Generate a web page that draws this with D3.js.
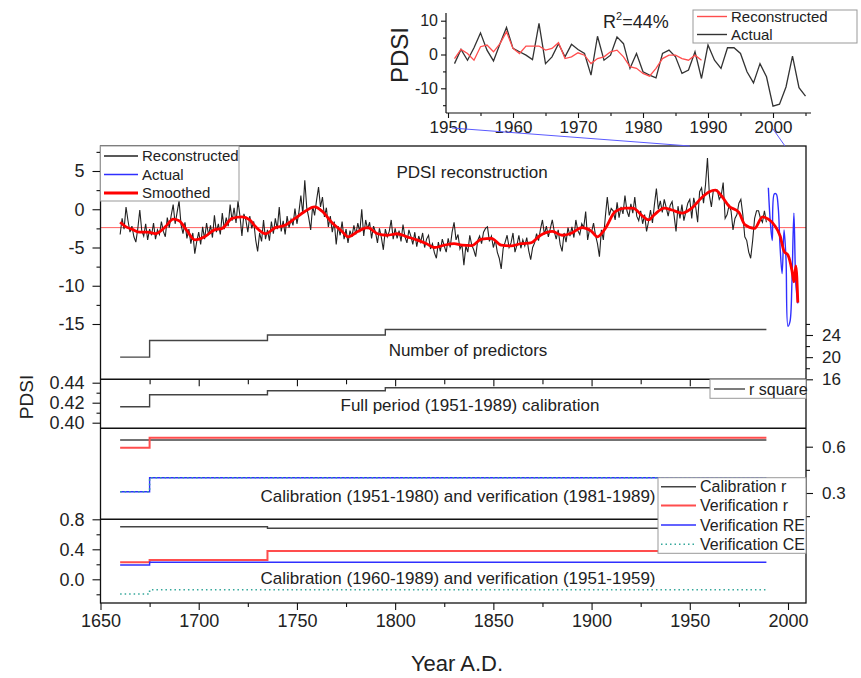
<!DOCTYPE html>
<html>
<head>
<meta charset="utf-8">
<title>PDSI reconstruction</title>
<style>
  body { margin: 0; background: #fff; }
  svg text { font-family: "Liberation Sans", Arial, sans-serif; fill: #222; }
</style>
</head>
<body>
<div id="chart"></div>
<script src="https://cdn.jsdelivr.net/npm/d3@7"></script>
<script>
// ---- data ----
// reconstructed PDSI, one value per year from 1660 to 1989
var reconStart = 1660;
var recon = [
  -3.3, -1.2, -2.6, 0.3, -1.5, -3.0, -2.2, -3.6, -4.3, -2.5,
  -0.1, -2.8, -3.5, -1.9, -4.0, -2.6, -3.4, -1.8, -3.9, -2.7,
  -3.3, -1.6, -2.9, -3.6, -1.1, -2.4, -0.8, 0.6, -1.9, -0.4,
  1.1, -2.0, -3.2, -1.7, -3.8, -2.6, -4.5, -3.1, -5.8, -4.2,
  -3.0, -4.6, -2.3, -3.9, -1.8, -3.4, -2.1, -3.7, -0.8, -3.0,
  -1.9, -3.3, -0.5, -2.6, -1.1, -2.2, 0.6, -1.5, 0.2, -1.8,
  1.1, -0.9, -3.5, -0.6, -1.4, -3.0, -0.9, -2.5, -1.6, -4.0,
  -5.5, -3.1, -4.2, -1.4, -3.9, -2.7, -4.1, -1.6, -3.2, -1.2,
  -2.6, 0.3, -2.9, -1.5, -3.3, -0.9, -2.4, -1.3, -2.1, 0.1,
  -1.9, -0.4, 1.8, -0.6, 3.8, 0.2, -1.1, -2.7, 0.4, -0.8,
  1.2, 2.9, 0.3, 1.6, -1.0, 0.2, -2.3, -0.9, -3.0, -1.6,
  -4.6, -2.2, -3.4, -1.6, -3.9, -2.6, -4.4, -2.8, -3.6, -2.1,
  -3.3, -1.8, -3.0, 0.0, -3.5, -1.4, -2.6, -1.7, -3.8, -2.2,
  -3.0, -4.4, -2.5, -3.7, -5.3, -2.6, -3.6, -2.9, -1.4, -3.9,
  -2.5, -3.8, -2.8, -4.2, -2.0, -3.6, -4.4, -2.7, -3.5, -4.6,
  -3.0, -4.9, -3.5, -4.3, -3.1, -5.0, -3.9, -3.4, -5.2, -4.5,
  -5.7, -6.4, -4.3, -5.5, -3.9, -4.8, -5.6, -3.8, -5.0, -3.0,
  -1.7, -4.0, -3.3, -5.2, -4.6, -7.3, -4.8, -5.6, -3.4, -4.7,
  -5.3, -6.2, -4.1, -3.5, -4.5, -3.0, -2.5, -2.3, -4.2, -3.5,
  -5.0, -4.0, -5.6, -6.4, -7.8, -5.1, -4.3, -3.4, -5.0, -4.4,
  -3.1, -5.6, -4.7, -3.4, -5.1, -4.0, -4.8, -3.7, -5.4, -6.6,
  -5.0, -4.4, -3.2, -4.1, -2.6, -1.4, -3.3, -2.2, -3.6, -2.5,
  -1.4, -2.9, -3.9, -2.7, -4.6, -5.5, -3.1, -4.3, -2.4, -3.5,
  -2.3, -3.7, -1.4, -2.8, -3.3, -1.9, -2.4, -0.3, -4.0, -2.6,
  -3.0, -1.8, -3.4, -4.5, -6.2, -2.7, -4.0, -1.0, 1.6, -0.8,
  0.1, -0.2, -1.4, 0.9, -1.1, 0.3, -0.6, 1.8, -0.2, -1.0,
  0.7, -0.5, 1.6, -0.9, -1.5, -0.2, -1.9, -0.7, -2.9, -1.6,
  -0.1, -1.8, 0.6, 2.7, 0.0, 1.1, -0.4, 1.3, 0.2, -0.9,
  0.5, 1.0, -0.8, -2.9, 0.4, -1.2, 0.6, -1.5, -0.3, 0.8,
  1.3, -1.2, 1.5, 0.3, -1.7, 2.3, 2.8, 0.8, 3.2, 6.7,
  1.8, 0.3, 2.5, 2.5, 2.5, 1.3, 1.8, 3.5, -1.2, -0.7,
  0.5, -0.2, -2.7, -1.2, -0.7, 0.8, 1.3, -0.7, -3.6, -4.1,
  -5.6, -6.4, -4.1, -1.2, -0.2, -0.2, -1.2, -1.7, -0.2, -1.7
];

// actual (instrumental) PDSI, 1951-2005
var actualStart = 1951;
var actual = [
  -2.7, 1.5, -1.7, 2.0, 6.4, 1.3, -1.9, 3.2, 8.0, 1.8,
  0.8, -0.2, -1.5, 9.2, -2.7, -0.7, 3.2, -0.7, 3.0, 1.5,
  0.3, -6.1, 5.4, -1.7, -0.2, 5.2, 3.2, -4.1, 0.3, -5.1,
  -6.1, -6.9, 0.3, 1.3, -0.7, -5.6, -4.6, 0.8, -7.1, 2.8,
  -1.7, -4.1, 2.0, 2.0, 0.3, -5.1, -8.4, -2.7, -6.6, -15.3,
  -14.7, -9.6, -0.5, -9.8, -12.3
];

// smoothed curve, read at its turning points
var smoothYears = [1660, 1663, 1666, 1670, 1674, 1678, 1683, 1687, 1690, 1694, 1698, 1703, 1708,
  1712, 1717, 1722, 1726, 1729, 1734, 1739, 1744, 1749, 1754, 1759, 1763, 1768, 1773, 1776,
  1781, 1786, 1791, 1796, 1801, 1806, 1811, 1816, 1820, 1825, 1830, 1834, 1839, 1844, 1849,
  1854, 1859, 1864, 1869, 1874, 1880, 1885, 1890, 1895, 1900, 1903, 1907, 1912, 1917, 1921,
  1926, 1929, 1932, 1937, 1941, 1946, 1951, 1956, 1960, 1963, 1966, 1970, 1975, 1978, 1983,
  1987, 1990, 1993, 1996, 1998, 2000, 2002, 2003, 2004, 2005];
var smoothValues = [-1.7, -2.3, -2.6, -3.0, -3.0, -3.2, -2.3, -1.3, -1.5, -2.8, -4.0, -3.6, -2.7,
  -2.5, -1.2, -1.0, -1.4, -2.3, -3.2, -2.4, -2.1, -1.2, -0.3, 0.3, -0.3, -1.8, -2.9, -3.6,
  -2.9, -2.4, -3.2, -3.4, -3.2, -3.6, -4.0, -4.5, -5.0, -4.7, -4.5, -4.7, -4.75, -3.9, -3.8,
  -4.7, -4.8, -4.5, -4.4, -3.4, -2.9, -3.4, -3.1, -2.4, -2.9, -3.6, -2.5, -0.3, 0.15, 0.15,
  -0.9, -1.4, -0.7, 0.15, -0.1, -0.5, 0.15, 1.5, 2.3, 2.5, 1.8, 0.4, -0.4, -2.0, -2.5,
  -1.0, -1.3, -2.05, -3.5, -5.5, -6.0, -8.0, -9.5, -7.4, -12.2];

var meanPdsi = -2.4;

// step series (value holds from each year to the next)
var stepYears   = [1660, 1675, 1735, 1795, 1989];
var predictors  = [20, 23, 24, 25, 25];
var rSquare     = [0.416, 0.428, 0.432, 0.435, 0.435];
var calR8089    = [0.643, 0.643, 0.643, 0.643, 0.643];
var verR8089    = [0.594, 0.658, 0.658, 0.658, 0.658];
var verRE8089   = [0.308, 0.399, 0.399, 0.399, 0.399];
var verCE8089   = [0.308, 0.399, 0.399, 0.399, 0.399];
var calR5159    = [0.70, 0.70, 0.68, 0.68, 0.68];
var verR5159    = [0.227, 0.257, 0.377, 0.377, 0.377];
var verRE5159   = [0.19, 0.227, 0.227, 0.227, 0.227];
var verCE5159   = [-0.196, -0.14, -0.14, -0.14, -0.14];

// ticks
var xMajor = [1650, 1700, 1750, 1800, 1850, 1900, 1950, 2000];
var xMinor = [1675, 1725, 1775, 1825, 1875, 1925, 1975];
var mainYMajor = [5, 0, -5, -10, -15];
var mainYMinor = [7.5, 2.5, -2.5, -7.5, -12.5];
var predMajor = [16, 20, 24];
var predMinor = [18, 22, 26];
var rsqMajor = [0.40, 0.42, 0.44];
var rsqMinor = [0.41, 0.43];
var p3Major = [0.3, 0.6];
var p3Minor = [0.15, 0.45];
var p4Major = [0.0, 0.4, 0.8];
var p4Minor = [-0.2, 0.2, 0.6];
var inXMajor = [1950, 1960, 1970, 1980, 1990, 2000];
var inXMinor = [1955, 1965, 1975, 1985, 1995, 2005];
var inYMajor = [-10, 0, 10];
var inYMinor = [-15, -5, 5];

var mainLegend = ["Reconstructed", "Actual", "Smoothed"];
var insetLegend = ["Reconstructed", "Actual"];
var skillLegend = ["Calibration r", "Verification r", "Verification RE", "Verification CE"];

// ---- drawing ----
var svg = d3.select("#chart").append("svg")
    .attr("width", 861)
    .attr("height", 678);

var L = 100.5, R = 806, T = 146, B = 603;
var sep1 = 379.3, sep2 = 428.3, sep3 = 519.3;

var x = d3.scaleLinear().domain([1650, 2000]).range([L, 788]);
var yMain = d3.scaleLinear().domain([-15, 5]).range([324, 171]);
var yPred = d3.scaleLinear().domain([16, 24]).range([379.3, 335]);
var yR2 = d3.scaleLinear().domain([0.40, 0.44]).range([422.7, 382.7]);
var yP3 = d3.scaleLinear().domain([0.3, 0.6]).range([493, 446.7]);
var yP4 = d3.scaleLinear().domain([0, 0.8]).range([579.3, 519.3]);
var xIn = d3.scaleLinear().domain([1950, 2000]).range([448, 773]);
var yIn = d3.scaleLinear().domain([-10, 10]).range([88.3, 20.7]);

var BLK = "#222", RED = "#ff0000", BLUE = "#2f2fff", GRAY = "#444",
    LRED = "#ff4d4d", TEAL = "#35a89b";

function styleAxis(g, size) {
  g.attr("font-family", null).attr("font-size", null);
  g.select(".domain").remove();
  g.selectAll(".tick line").attr("stroke", "#111").attr("stroke-width", 1.1);
  g.selectAll(".tick text").attr("font-size", size).attr("fill", "#222");
}
var fmtInt = function(d) { return String(d); };

// --- main PDSI panel ---
svg.append("line")
    .attr("x1", L).attr("x2", R)
    .attr("y1", yMain(meanPdsi)).attr("y2", yMain(meanPdsi))
    .attr("stroke", "#ff6060").attr("stroke-width", 1);

var reconLine = d3.line()
    .x(function(d, i) { return x(reconStart + i); })
    .y(function(d) { return yMain(d); });
svg.append("path").datum(recon)
    .attr("d", reconLine)
    .attr("fill", "none").attr("stroke", BLK).attr("stroke-width", 1.1);

var actualPts = actual.map(function(v, i) { return [actualStart + i, v]; });
var mainActual = actualPts.filter(function(d) { return d[0] >= 1990; });
svg.append("path").datum(mainActual)
    .attr("d", d3.line().curve(d3.curveCatmullRom)
      .x(function(d) { return x(d[0]); })
      .y(function(d) { return yMain(d[1]); }))
    .attr("fill", "none").attr("stroke", BLUE).attr("stroke-width", 1.4);

var smoothPts = smoothYears.map(function(yr, i) { return [yr, smoothValues[i]]; });
svg.append("path").datum(smoothPts)
    .attr("d", d3.line().curve(d3.curveMonotoneX)
      .x(function(d) { return x(d[0]); })
      .y(function(d) { return yMain(d[1]); }))
    .attr("fill", "none").attr("stroke", RED).attr("stroke-width", 2.8)
    .attr("stroke-linejoin", "round");

// --- step panels ---
function stepPath(vals, yScale, color, width, dash) {
  var pts = stepYears.map(function(yr, i) { return [yr, vals[i]]; });
  svg.append("path").datum(pts)
    .attr("d", d3.line().curve(d3.curveStepAfter)
      .x(function(d) { return x(d[0]); })
      .y(function(d) { return yScale(d[1]); }))
    .attr("fill", "none").attr("stroke", color).attr("stroke-width", width)
    .attr("stroke-dasharray", dash || null);
}
stepPath(predictors, yPred, GRAY, 1.4);
stepPath(rSquare, yR2, GRAY, 1.4);
stepPath(calR8089, yP3, GRAY, 1.4);
stepPath(verR8089, yP3, LRED, 2);
stepPath(verRE8089, yP3, BLUE, 1.4);
stepPath(verCE8089, yP3, TEAL, 1.6, "1.5,3");
stepPath(calR5159, yP4, GRAY, 1.4);
stepPath(verR5159, yP4, LRED, 2);
stepPath(verRE5159, yP4, BLUE, 1.4);
stepPath(verCE5159, yP4, TEAL, 1.6, "1.5,3");

// panel titles
var titles = [
  ["PDSI reconstruction", 472, 178],
  ["Number of predictors", 468, 356],
  ["Full period (1951-1989) calibration", 470, 411],
  ["Calibration (1951-1980) and verification (1981-1989)", 458, 502],
  ["Calibration (1960-1989) and verification (1951-1959)", 458, 584]
];
titles.forEach(function(t) {
  svg.append("text").attr("x", t[1]).attr("y", t[2])
    .attr("text-anchor", "middle").attr("font-size", 17).text(t[0]);
});

// frame and separators
svg.append("rect").attr("x", L).attr("y", T).attr("width", R - L).attr("height", B - T)
    .attr("fill", "none").attr("stroke", "#111").attr("stroke-width", 1.3);
[sep1, sep2, sep3].forEach(function(yy) {
  svg.append("line").attr("x1", L).attr("x2", R).attr("y1", yy).attr("y2", yy)
    .attr("stroke", "#111").attr("stroke-width", 1.5);
});

// bottom axis
svg.append("g").attr("transform", "translate(0," + B + ")")
    .call(d3.axisBottom(x).tickValues(xMajor).tickSize(7).tickPadding(4).tickFormat(fmtInt))
    .call(styleAxis, 18);
svg.append("g").attr("transform", "translate(0," + B + ")")
    .call(d3.axisBottom(x).tickValues(xMinor).tickSize(4).tickFormat(""))
    .call(styleAxis, 18);
// inward ticks on the r square panel top
svg.append("g").attr("transform", "translate(0," + sep1 + ")")
    .call(d3.axisBottom(x).tickValues(xMajor.slice(1)).tickSize(7).tickFormat(""))
    .call(styleAxis, 18);
svg.append("g").attr("transform", "translate(0," + sep1 + ")")
    .call(d3.axisBottom(x).tickValues(xMinor).tickSize(5).tickFormat(""))
    .call(styleAxis, 18);

// left axes
function leftAxis(scale, major, minor, fmt) {
  svg.append("g").attr("transform", "translate(" + L + ",0)")
    .call(d3.axisLeft(scale).tickValues(major).tickSize(8).tickPadding(8).tickFormat(fmt))
    .call(styleAxis, 18);
  svg.append("g").attr("transform", "translate(" + L + ",0)")
    .call(d3.axisLeft(scale).tickValues(minor).tickSize(4).tickFormat(""))
    .call(styleAxis, 18);
}
leftAxis(yMain, mainYMajor, mainYMinor, fmtInt);
leftAxis(yR2, rsqMajor, rsqMinor, function(d) { return d.toFixed(2); });
leftAxis(yP4, p4Major, p4Minor, function(d) { return d.toFixed(1); });

// right axes
function rightAxis(scale, major, minor, fmt) {
  svg.append("g").attr("transform", "translate(" + R + ",0)")
    .call(d3.axisRight(scale).tickValues(major).tickSize(7).tickPadding(9).tickFormat(fmt))
    .call(styleAxis, 17);
  svg.append("g").attr("transform", "translate(" + R + ",0)")
    .call(d3.axisRight(scale).tickValues(minor).tickSize(4).tickFormat(""))
    .call(styleAxis, 17);
}
rightAxis(yPred, predMajor, predMinor, fmtInt);
rightAxis(yP3, p3Major, p3Minor, function(d) { return d.toFixed(1); });

// axis titles
svg.append("text").attr("transform", "translate(33,397) rotate(-90)")
    .attr("text-anchor", "middle").attr("font-size", 19).text("PDSI");
svg.append("text").attr("x", 457).attr("y", 671)
    .attr("text-anchor", "middle").attr("font-size", 22).text("Year A.D.");

// --- legends ---
function legendBox(x0, y0, x1, y1) {
  svg.append("rect").attr("x", x0).attr("y", y0).attr("width", x1 - x0).attr("height", y1 - y0)
    .attr("fill", "#fff").attr("stroke", "#999").attr("stroke-width", 1);
}
function legendItem(lx0, lx1, yy, label, color, width, dash, size) {
  svg.append("line").attr("x1", lx0).attr("x2", lx1).attr("y1", yy).attr("y2", yy)
    .attr("stroke", color).attr("stroke-width", width).attr("stroke-dasharray", dash || null);
  svg.append("text").attr("x", lx1 + 4).attr("y", yy + size * 0.36)
    .attr("font-size", size).text(label);
}

legendBox(L, T, 239, 201);
var mainLegendStyle = [[BLK, 1.3], [BLUE, 1.4], [RED, 2.8]];
var mainLegendY = [156, 174.5, 193];
mainLegend.forEach(function(lab, i) {
  legendItem(104, 138, mainLegendY[i], lab, mainLegendStyle[i][0], mainLegendStyle[i][1], null, 15);
});

legendBox(710, sep1, R, 398.3);
legendItem(714, 745, 389, "r square", GRAY, 1.4, null, 16);

legendBox(658, 477.7, R, 553.3);
var skillStyle = [[GRAY, 1.4, null], [LRED, 2, null], [BLUE, 1.4, null], [TEAL, 1.6, "1.5,3"]];
var skillY = [486.7, 505.5, 525, 544.3];
skillLegend.forEach(function(lab, i) {
  legendItem(661, 696, skillY[i], lab, skillStyle[i][0], skillStyle[i][1], skillStyle[i][2], 16);
});

// --- inset ---
var reconPts = recon.map(function(v, i) { return [reconStart + i, v]; })
    .filter(function(d) { return d[0] >= 1951; });
var inLine = d3.line()
    .x(function(d) { return xIn(d[0]); })
    .y(function(d) { return yIn(d[1]); });
svg.append("path").datum(actualPts).attr("d", inLine)
    .attr("fill", "none").attr("stroke", "#333").attr("stroke-width", 1.3);
svg.append("path").datum(reconPts).attr("d", inLine)
    .attr("fill", "none").attr("stroke", LRED).attr("stroke-width", 1.3);

var inL = 446, inB = 113, inT = 13, inR = 811;
svg.append("line").attr("x1", inL).attr("x2", inL).attr("y1", inT).attr("y2", inB)
    .attr("stroke", "#111").attr("stroke-width", 1.2);
svg.append("line").attr("x1", inL).attr("x2", inR).attr("y1", inB).attr("y2", inB)
    .attr("stroke", "#111").attr("stroke-width", 1.2);
svg.append("g").attr("transform", "translate(" + inL + ",0)")
    .call(d3.axisLeft(yIn).tickValues(inYMajor).tickSize(5).tickPadding(3).tickFormat(fmtInt))
    .call(styleAxis, 16);
svg.append("g").attr("transform", "translate(" + inL + ",0)")
    .call(d3.axisLeft(yIn).tickValues(inYMinor).tickSize(3).tickFormat(""))
    .call(styleAxis, 16);
svg.append("g").attr("transform", "translate(0," + inB + ")")
    .call(d3.axisBottom(xIn).tickValues(inXMajor).tickSize(5).tickPadding(3).tickFormat(fmtInt))
    .call(styleAxis, 17);
svg.append("g").attr("transform", "translate(0," + inB + ")")
    .call(d3.axisBottom(xIn).tickValues(inXMinor).tickSize(3).tickFormat(""))
    .call(styleAxis, 17);

svg.append("text").attr("transform", "translate(408,55) rotate(-90)")
    .attr("text-anchor", "middle").attr("font-size", 24).text("PDSI");

var r2 = svg.append("text").attr("x", 603).attr("y", 28).attr("font-size", 18);
r2.append("tspan").text("R");
r2.append("tspan").attr("font-size", 11).attr("dy", -8).text("2");
r2.append("tspan").attr("dy", 8).text("=44%");

legendBox(693, 10, 857, 43);
legendItem(697, 727, 16.5, insetLegend[0], LRED, 1.4, null, 15);
legendItem(697, 727, 34.5, insetLegend[1], "#333", 1.4, null, 15);

// connectors from inset to main panel
svg.append("line").attr("x1", 452).attr("y1", 128).attr("x2", x(1950)).attr("y2", T)
    .attr("stroke", "#5a5aff").attr("stroke-width", 1);
svg.append("line").attr("x1", 773).attr("y1", 129).attr("x2", 785).attr("y2", T)
    .attr("stroke", "#5a5aff").attr("stroke-width", 1);
</script>
</body>
</html>
